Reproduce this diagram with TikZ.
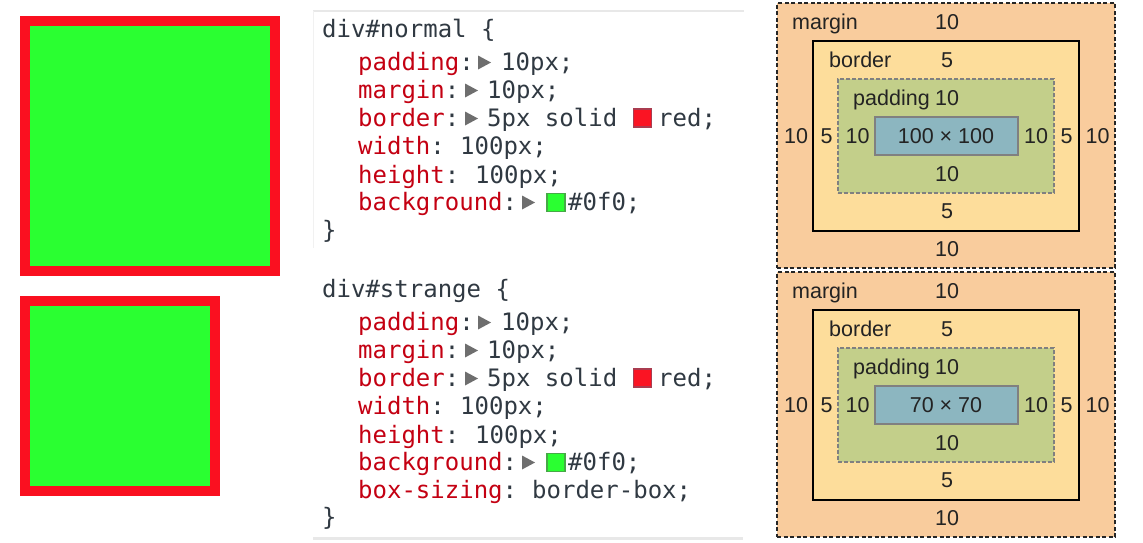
\documentclass[tikz,border=0pt]{standalone}
\usepackage{fontspec}
\setmainfont{Liberation Sans}
\newfontfamily\codefont{DejaVu Sans Mono}
\definecolor{sqred}{RGB}{250,16,32}
\definecolor{sqgreen}{RGB}{42,255,49}
\definecolor{propred}{RGB}{196,0,18}
\definecolor{codedark}{RGB}{48,57,66}
\definecolor{trigray}{RGB}{110,110,110}
\definecolor{marginfill}{HTML}{F9CC9D}
\definecolor{borderfill}{HTML}{FDDD9B}
\definecolor{paddingfill}{HTML}{C3CF8A}
\definecolor{contentfill}{HTML}{8CB6C0}
\definecolor{labelc}{RGB}{35,35,35}
\definecolor{panelline}{RGB}{232,232,232}
\definecolor{swred}{RGB}{250,20,35}
\definecolor{swredb}{RGB}{170,60,80}
\definecolor{swgreen}{RGB}{42,255,49}
\definecolor{swgreenb}{RGB}{70,170,70}
\tikzset{
  cssbox/.style={draw=sqred, line width=10pt, fill=sqgreen, inner sep=0pt, outer sep=0pt},
  code/.style={anchor=base west, inner sep=0pt, font=\codefont\fontsize{24}{28}\selectfont, text=codedark},
  tri/.style={fill=trigray},
  swatchR/.style={draw=swredb, line width=1.2pt, fill=swred, minimum size=18pt, inner sep=0pt},
  swatchG/.style={draw=swgreenb, line width=1.2pt, fill=swgreen, minimum size=18pt, inner sep=0pt},
  pline/.style={draw=panelline, line width=2pt},
  mbox/.style={draw=black!85, fill=marginfill, line width=1.2pt, dash pattern=on 4pt off 2.5pt, inner sep=0pt},
  bbox/.style={draw=black, fill=borderfill, line width=2pt, inner sep=0pt},
  pbox/.style={draw=black!50, fill=paddingfill, line width=1.2pt, dash pattern=on 4pt off 2pt, inner sep=0pt},
  cbox/.style={draw=black!50, fill=contentfill, line width=1.5pt, inner sep=0pt},
  lab/.style={anchor=base, inner sep=0pt, font=\fontsize{21.5}{25}\selectfont, text=labelc},
  labw/.style={lab, anchor=base west},
}
\newcommand\boxmodel[3]{%
\begin{scope}[shift={(0,#2)}]
\node[mbox, minimum width=338pt, minimum height=265pt] (#1m) at (946,135.5) {};
\node[bbox, minimum width=266pt, minimum height=190pt] (#1b) at (946,136) {};
\node[pbox, minimum width=216pt, minimum height=114pt] (#1p) at (946,136) {};
\node[cbox, minimum width=143pt, minimum height=38pt] (#1c) at (946.5,136) {};
\node[labw] (#1ml) at (792,29) {margin};
\node[lab] (#1mt) at (947,29) {10};
\node[labw] (#1bl) at (829,67) {border};
\node[lab] (#1bt) at (947,67) {5};
\node[labw] (#1pl) at (853,105) {padding};
\node[lab] (#1pt) at (947,105) {10};
\node[lab] (#1mlft) at (796,143) {10};
\node[lab] (#1blft) at (826.5,143) {5};
\node[lab] (#1plft) at (857.5,143) {10};
\node[lab] (#1ct) at (946,143) {#3};
\node[lab] (#1prt) at (1036,143) {10};
\node[lab] (#1brt) at (1066.5,143) {5};
\node[lab] (#1mrt) at (1097.5,143) {10};
\node[lab] (#1pb) at (947,181) {10};
\node[lab] (#1bb) at (947,218) {5};
\node[lab] (#1mb) at (947,256) {10};
\end{scope}}
\newcommand\codeblock[4]{%
\begin{scope}[shift={(0,#2)}]
\node[code] (#1sel) at (322,37) {#3 \{};
\node[code] (#1pad) at (358,70) {\textcolor{propred}{padding}:};
\fill[tri] (478,55.5) -- (491,62.5) -- (478,69.5) -- cycle;
\node[code] (#1padv) at (501,70) {10px;};
\node[code] (#1mar) at (358,98) {\textcolor{propred}{margin}:};
\fill[tri] (465,83.5) -- (478,90.5) -- (465,97.5) -- cycle;
\node[code] (#1marv) at (487,98) {10px;};
\node[code] (#1bor) at (358,126) {\textcolor{propred}{border}:};
\fill[tri] (465,111.5) -- (478,118.5) -- (465,125.5) -- cycle;
\node[code] (#1borv) at (487,126) {5px solid};
\node[swatchR] (#1sw1) at (642.5,118) {};
\node[code] (#1borc) at (658,126) {red;};
\node[code] (#1wid) at (358,154) {\textcolor{propred}{width}:};
\node[code] (#1widv) at (460,154) {100px;};
\node[code] (#1hei) at (358,183) {\textcolor{propred}{height}:};
\node[code] (#1heiv) at (475,183) {100px;};
\node[code] (#1bg) at (358,210) {\textcolor{propred}{background}:};
\fill[tri] (522,195.5) -- (535,202.5) -- (522,209.5) -- cycle;
\node[swatchG] (#1sw2) at (556,202.5) {};
\node[code] (#1bgv) at (568,210) {\#0f0;};
#4
\end{scope}}
\begin{document}
\begin{tikzpicture}[x=1pt,y=-1pt]
\useasboundingbox[fill=white] (0,0) rectangle (1143,542);
% rendered boxes
\node[cssbox, minimum width=250pt, minimum height=250pt] (normalbox) at (150,146) {};
\node[cssbox, minimum width=190pt, minimum height=190pt] (strangebox) at (120,396) {};
% code panel lines
\draw[pline] (313,11) -- (744,11);
\draw[draw=panelline!60, line width=1pt] (313,11) -- (313,248);
\draw[pline, line width=2.5pt] (313,538.5) -- (743,538.5);
% code
\codeblock{n}{0}{div\#normal}{\node[code] (nend) at (322,238) {\}};}
\codeblock{s}{260}{div\#strange}{%
\node[code] (sbox) at (358,238) {\textcolor{propred}{box-sizing}:};
\node[code] (sboxv) at (532,238) {border-box;};
\node[code] (send) at (322,265) {\}};}
% box models
\boxmodel{a}{0}{100 × 100}
\boxmodel{b}{269}{70 × 70}
\end{tikzpicture}
\end{document}
